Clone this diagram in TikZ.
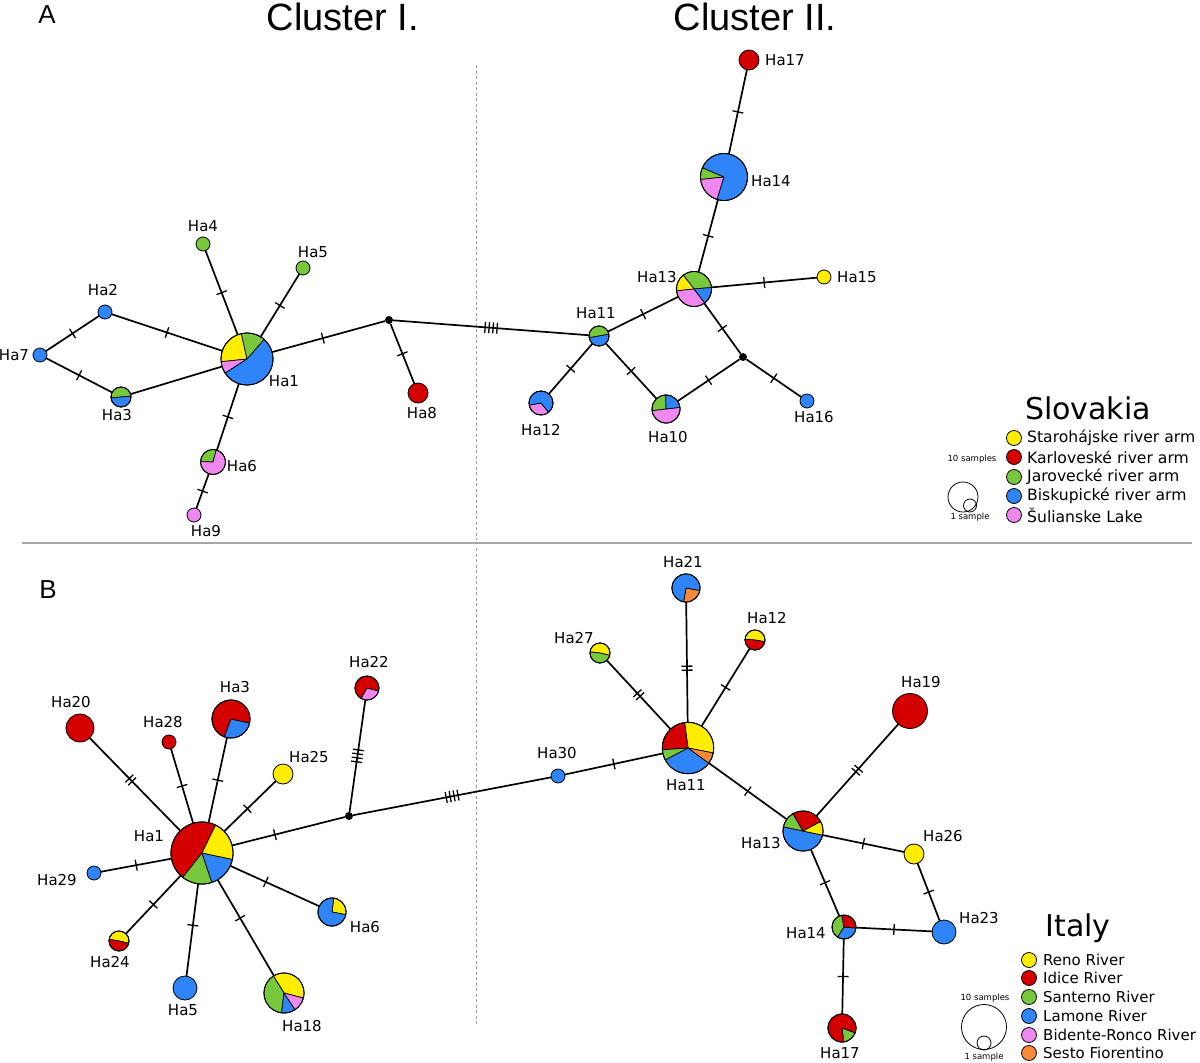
\documentclass[tikz,border=0pt]{standalone}
\usepackage{fontspec}
\setmainfont{DejaVu Sans}
\newfontfamily\arialf{Liberation Sans}
\usetikzlibrary{decorations.markings}
\definecolor{yel}{HTML}{FFED00}
\definecolor{red}{HTML}{D40000}
\definecolor{grn}{HTML}{77C83C}
\definecolor{blu}{HTML}{2F85F7}
\definecolor{pnk}{HTML}{EE88EE}
\definecolor{org}{HTML}{F6893A}
\newcommand\pieslices[3]{%
  \foreach \a/\b/\c in {#3}{%
    \filldraw[fill=\c,draw=black,line width=0.7pt,line join=round] (#1.center) -- ++(\a:#2) arc[start angle=\a,end angle=\b,radius=#2] -- cycle;}%
  \draw[line width=0.8pt] (#1.center) circle[radius=#2];}
\begin{document}
\begin{tikzpicture}[x=1pt,y=1pt,
  hn/.style={circle,draw=black,line width=0.8pt,inner sep=0pt,outer sep=0pt,minimum size=#1*2pt},
  jn/.style={circle,fill=black,inner sep=0pt,minimum size=8pt},
  lab/.style={font=\fontsize{15}{18}\selectfont,inner sep=0pt},
  legt/.style={font=\fontsize{15}{18}\selectfont,inner sep=0pt,anchor=west},
  legs/.style={font=\fontsize{15.6}{18}\selectfont,inner sep=0pt,anchor=west},
  small/.style={font=\fontsize{8.5}{10}\selectfont,inner sep=0pt},
  edge/.style={line width=1.7pt},
  tk/.style 2 args={postaction={decorate,decoration={markings,mark=at position #2 with {\foreach \k in {1,...,#1}{\draw[line width=1.3pt,line cap=butt] ({(\k-(#1+1)/2)*4},-5.5) -- ++(0,11);}}}}}
]
\useasboundingbox (0,0) rectangle (1200,-1063);

% titles
\node[font=\arialf\fontsize{26}{30}\selectfont,inner sep=0pt] (tA) at (47,-15) {A};
\node[font=\arialf\fontsize{26}{30}\selectfont,inner sep=0pt] (tB) at (48,-590) {B};
\node[font=\arialf\fontsize{38}{42}\selectfont,inner sep=0pt] (c1) at (343,-17) {Cluster I.};
\node[font=\arialf\fontsize{38}{42}\selectfont,inner sep=0pt] (c2) at (755,-17) {Cluster II.};

% separators
\draw[gray!70,line width=1.2pt] (22,-543) -- (1192,-543);
\draw[gray!80,line width=1pt,dash pattern=on 3pt off 2.5pt] (476,-65) -- (476,-540);
\draw[gray!80,line width=1pt,dash pattern=on 3pt off 2.5pt] (476,-548) -- (476,-1025);

% ---------- Panel A nodes ----------
\node[hn=26] (A1) at (247,-359) {};
\node[hn=7,fill=blu] (A2) at (105,-312) {};
\node[hn=10] (A3) at (121,-397) {};
\node[hn=7,fill=grn] (A4) at (203,-244) {};
\node[hn=7,fill=grn] (A5) at (303,-268) {};
\node[hn=12.5] (A6) at (213,-462) {};
\node[hn=7,fill=blu] (A7) at (40,-355) {};
\node[hn=10,fill=red] (A8) at (418,-393) {};
\node[hn=7,fill=pnk] (A9) at (194,-515) {};
\node[jn] (JA) at (389,-320) {};
\node[hn=14] (A10) at (666,-409) {};
\node[hn=10] (A11) at (599,-336) {};
\node[hn=12] (A12) at (541,-403) {};
\node[hn=17.5] (A13) at (694,-289) {};
\node[hn=23.5] (A14) at (724,-177) {};
\node[hn=7,fill=yel] (A15) at (824,-277) {};
\node[hn=7,fill=blu] (A16) at (807,-401) {};
\node[hn=10,fill=red] (A17) at (749,-60) {};
\node[jn] (JB) at (743,-357) {};

% Panel A edges
\draw[edge,tk={1}{0.5}] (A1) -- (A4);
\draw[edge,tk={1}{0.5}] (A1) -- (A5);
\draw[edge,tk={1}{0.5}] (A1) -- (A2);
\draw[edge,tk={1}{0.5}] (A2) -- (A7);
\draw[edge,tk={1}{0.5}] (A7) -- (A3);
\draw[edge] (A3) -- (A1);
\draw[edge,tk={1}{0.5}] (A1) -- (A6);
\draw[edge,tk={1}{0.5}] (A6) -- (A9);
\draw[edge,tk={1}{0.45}] (A1) -- (JA);
\draw[edge,tk={1}{0.5}] (JA) -- (A8);
\draw[edge,tk={4}{0.5}] (JA) -- (A11);
\draw[edge,tk={1}{0.5}] (A11) -- (A13);
\draw[edge,tk={1}{0.5}] (A13) -- (A14);
\draw[edge,tk={1}{0.5}] (A14) -- (A17);
\draw[edge,tk={1}{0.5}] (A13) -- (A15);
\draw[edge,tk={1}{0.5}] (A13) -- (JB);
\draw[edge,tk={1}{0.5}] (JB) -- (A16);
\draw[edge,tk={1}{0.5}] (JB) -- (A10);
\draw[edge,tk={1}{0.5}] (A11) -- (A10);
\draw[edge,tk={1}{0.5}] (A11) -- (A12);

% Panel A pies
\pieslices{A1}{26}{102.5/186/yel,186/213/pnk,213/409/blu,49/102.5/grn}
\pieslices{A3}{10}{5/185/grn,185/365/blu}
\pieslices{A6}{12.5}{75/178/grn,178/435/pnk}
\pieslices{A10}{14}{91/187/grn,187/367/pnk,7/91/blu}
\pieslices{A11}{10}{10/190/grn,190/370/blu}
\pieslices{A12}{12}{190/309/pnk,309/550/blu}
\pieslices{A13}{17.5}{5/127.6/grn,127.6/186/yel,186/307.5/pnk,307.5/365/blu}
\pieslices{A14}{23.5}{156.6/186/grn,186/253/pnk,253/516.6/blu}

% Panel A labels
\node[lab] (lA1) at (284,-381) {Ha1};
\node[lab] (lA2) at (103,-290) {Ha2};
\node[lab] (lA3) at (117,-415) {Ha3};
\node[lab] (lA4) at (203,-226) {Ha4};
\node[lab] (lA5) at (313,-252) {Ha5};
\node[lab] (lA6) at (242,-466) {Ha6};
\node[lab] (lA7) at (14,-355) {Ha7};
\node[lab] (lA8) at (422,-413) {Ha8};
\node[lab] (lA9) at (206,-531) {Ha9};
\node[lab] (lA10) at (668,-437) {Ha10};
\node[lab] (lA11) at (596,-313) {Ha11};
\node[lab] (lA12) at (541,-430) {Ha12};
\node[lab] (lA13) at (657,-277) {Ha13};
\node[lab] (lA14) at (771,-181) {Ha14};
\node[lab] (lA15) at (857,-277) {Ha15};
\node[lab] (lA16) at (814,-417) {Ha16};
\node[lab] (lA17) at (785,-60) {Ha17};

% Legend A
\node[font=\fontsize{30}{34}\selectfont,inner sep=0pt] (slk) at (1088,-408) {Slovakia};
\node[hn=7.5,fill=yel] (sA1) at (1014,-438) {};
\node[hn=7.5,fill=red] (sA2) at (1014,-457) {};
\node[hn=7.5,fill=grn] (sA3) at (1014,-477) {};
\node[hn=7.5,fill=blu] (sA4) at (1014,-496) {};
\node[hn=7.5,fill=pnk] (sA5) at (1014,-515) {};
\node[legs] (tA1) at (1027,-438) {Starohájske river arm};
\node[legs] (tA2) at (1027,-457) {Karloveské river arm};
\node[legs] (tA3) at (1027,-477) {Jarovecké river arm};
\node[legs] (tA4) at (1027,-496) {Biskupické river arm};
\node[legs] (tA5) at (1027,-515) {Šulianske Lake};
\node[hn=15] (scA10) at (963,-497) {};
\node[hn=6.5] (scA1) at (970,-505.5) {};
\node[small] (sAt1) at (972,-459) {10 samples};
\node[small] (sAt2) at (970,-517) {1 sample};

% ---------- Panel B nodes ----------
\node[hn=31] (B1) at (202,-853) {};
\node[hn=19] (B3) at (231,-719) {};
\node[hn=12,fill=blu] (B5) at (185,-988) {};
\node[hn=14] (B6) at (332,-912) {};
\node[hn=20] (B18) at (284,-993) {};
\node[hn=14,fill=red] (B20) at (80,-728) {};
\node[hn=12] (B22) at (367,-688) {};
\node[hn=10] (B24) at (119,-941) {};
\node[hn=10,fill=yel] (B25) at (283,-774) {};
\node[hn=7,fill=red] (B28) at (169,-742) {};
\node[hn=7,fill=blu] (B29) at (94,-873) {};
\node[jn] (JC) at (349,-816) {};
\node[hn=7,fill=blu] (B30) at (558,-776) {};
\node[hn=25.7] (B11) at (688,-748) {};
\node[hn=14] (B21) at (686,-588) {};
\node[hn=10] (B27) at (600,-653) {};
\node[hn=10] (B12) at (755,-640) {};
\node[hn=17.5,fill=red] (B19) at (910,-711) {};
\node[hn=20] (B13) at (803,-831) {};
\node[hn=10,fill=yel] (B26) at (914,-854) {};
\node[hn=12,fill=blu] (B23) at (944,-932) {};
\node[hn=12] (B14) at (844,-927) {};
\node[hn=14] (B17) at (842,-1028) {};

% Panel B edges
\draw[edge,tk={2}{0.55}] (B1) -- (B20);
\draw[edge,tk={1}{0.5}] (B1) -- (B28);
\draw[edge,tk={1}{0.5}] (B1) -- (B3);
\draw[edge,tk={1}{0.45}] (B1) -- (B25);
\draw[edge,tk={1}{0.38}] (B1) -- (JC);
\draw[edge,tk={4}{0.5}] (JC) -- (B22);
\draw[edge,tk={4}{0.5}] (JC) -- (B30);
\draw[edge,tk={1}{0.5}] (B30) -- (B11);
\draw[edge,tk={1}{0.5}] (B1) -- (B29);
\draw[edge,tk={1}{0.5}] (B1) -- (B24);
\draw[edge,tk={1}{0.45}] (B1) -- (B5);
\draw[edge,tk={1}{0.4}] (B1) -- (B18);
\draw[edge,tk={1}{0.4}] (B1) -- (B6);
\draw[edge,tk={2}{0.5}] (B11) -- (B27);
\draw[edge,tk={2}{0.45}] (B11) -- (B21);
\draw[edge,tk={1}{0.5}] (B11) -- (B12);
\draw[edge,tk={1}{0.5}] (B11) -- (B13);
\draw[edge,tk={2}{0.5}] (B13) -- (B19);
\draw[edge,tk={1}{0.5}] (B13) -- (B26);
\draw[edge,tk={1}{0.5}] (B13) -- (B14);
\draw[edge,tk={1}{0.5}] (B26) -- (B23);
\draw[edge,tk={1}{0.5}] (B14) -- (B23);
\draw[edge,tk={1}{0.5}] (B14) -- (B17);

% Panel B pies
\pieslices{B1}{31}{64/231.7/red,231.7/288.6/grn,288.6/348.2/blu,348.2/424/yel}
\pieslices{B3}{19}{249/348/blu,348/609/red}
\pieslices{B22}{12}{240/346/pnk,346/600/red}
\pieslices{B6}{14}{349/443/yel,83/349/blu}
\pieslices{B18}{20}{345.5/482/yel,122/263/grn,263/303.4/blu,303.4/345.5/pnk}
\pieslices{B24}{10}{-13/170/yel,170/347/red}
\pieslices{B21}{14}{260/350/org,350/620/blu}
\pieslices{B27}{10}{-13.6/174/yel,174/346.4/grn}
\pieslices{B12}{10}{-10/176/yel,176/350/red}
\pieslices{B11}{25.7}{-11/97.6/yel,97.6/184/red,184/208/grn,208/324/blu,324/349/org}
\pieslices{B13}{20}{168/348/blu,120/168/grn,28/120/red,-12/28/yel}
\pieslices{B14}{12}{101/238/grn,238/355/blu,-5/101/red}
\pieslices{B17}{14}{277/340/grn,340/637/red}

% Panel B labels
\node[lab] (lB1) at (149,-836) {Ha1};
\node[lab] (lB3) at (235,-687) {Ha3};
\node[lab] (lB5) at (183,-1010) {Ha5};
\node[lab] (lB6) at (365,-927) {Ha6};
\node[lab] (lB18) at (302,-1026) {Ha18};
\node[lab] (lB20) at (71,-702) {Ha20};
\node[lab] (lB22) at (369,-662) {Ha22};
\node[lab] (lB24) at (110,-962) {Ha24};
\node[lab] (lB25) at (309,-757) {Ha25};
\node[lab] (lB28) at (163,-722) {Ha28};
\node[lab] (lB29) at (57,-880) {Ha29};
\node[lab] (lB30) at (557,-753) {Ha30};
\node[lab] (lB11) at (686,-785) {Ha11};
\node[lab] (lB21) at (683,-562) {Ha21};
\node[lab] (lB27) at (574,-638) {Ha27};
\node[lab] (lB12) at (767,-618) {Ha12};
\node[lab] (lB19) at (921,-682) {Ha19};
\node[lab] (lB13) at (761,-843) {Ha13};
\node[lab] (lB26) at (943,-836) {Ha26};
\node[lab] (lB23) at (979,-918) {Ha23};
\node[lab] (lB14) at (806,-933) {Ha14};
\node[lab] (lB17) at (840,-1053) {Ha17};

% Legend B
\node[font=\fontsize{30}{34}\selectfont,inner sep=0pt] (ity) at (1078,-928) {Italy};
\node[hn=7.5,fill=yel] (sB1) at (1029,-960) {};
\node[hn=7.5,fill=red] (sB2) at (1029,-978) {};
\node[hn=7.5,fill=grn] (sB3) at (1029,-997) {};
\node[hn=7.5,fill=blu] (sB4) at (1029,-1016) {};
\node[hn=7.5,fill=pnk] (sB5) at (1029,-1035) {};
\node[hn=7.5,fill=org] (sB6) at (1029,-1053) {};
\node[legt] (tB1) at (1043,-960) {Reno River};
\node[legt] (tB2) at (1043,-978) {Idice River};
\node[legt] (tB3) at (1043,-997) {Santerno River};
\node[legt] (tB4) at (1043,-1016) {Lamone River};
\node[legt] (tB5) at (1043,-1035) {Bidente-Ronco River};
\node[legt] (tB6) at (1043,-1053) {Sesto Fiorentino};
\node[hn=22.5] (scB10) at (984,-1027) {};
\node[hn=7] (scB1) at (984,-1043) {};
\node[small] (sBt1) at (985,-998) {10 samples};
\node[small] (sBt2) at (984,-1057) {1 sample};
\end{tikzpicture}
\end{document}
